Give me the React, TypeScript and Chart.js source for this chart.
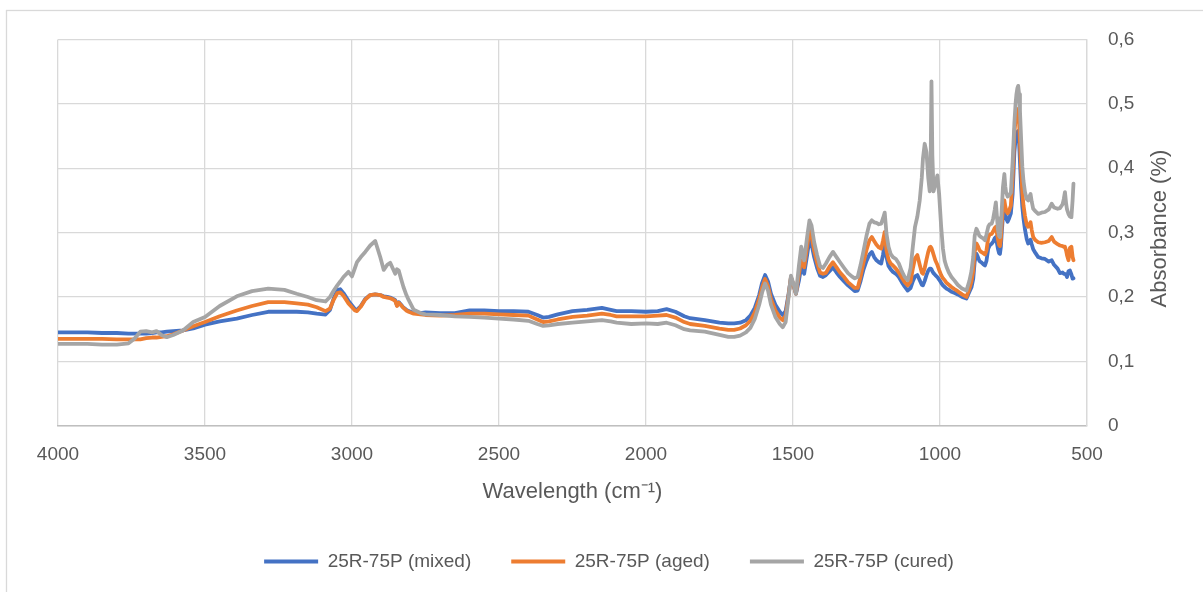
import { useEffect, useRef } from "react";
import { Chart, registerables } from "chart.js";

Chart.register(...registerables);

// FTIR spectra of the 25R-75P blend (absorbance vs. wavenumber)
const wavenumbers = [
  4000, 3950, 3900, 3850, 3800, 3760, 3740, 3720, 3700, 3680, 3665, 3648, 3630, 3608, 3575, 3540,
  3500, 3450, 3392, 3340, 3285, 3230, 3188, 3150, 3120, 3090, 3075, 3062, 3050, 3040, 3029, 3012,
  3000, 2990, 2983, 2970, 2955, 2938, 2921, 2904, 2892, 2880, 2870, 2860, 2853, 2847, 2841, 2833,
  2825, 2815, 2807, 2790, 2767, 2750, 2700, 2650, 2600, 2550, 2500, 2450, 2400, 2370, 2350, 2330,
  2300, 2250, 2200, 2150, 2120, 2100, 2050, 2000, 1960, 1930, 1900, 1870, 1850, 1800, 1750, 1720,
  1700, 1680, 1660, 1645, 1630, 1615, 1605, 1595, 1585, 1575, 1560, 1545, 1535, 1525, 1515, 1507,
  1498, 1490, 1480, 1472, 1462, 1452, 1444, 1437, 1428, 1418, 1408, 1398, 1388, 1376, 1364, 1352,
  1340, 1326, 1313, 1300, 1290, 1280, 1270, 1260, 1250, 1240, 1232, 1224, 1216, 1208, 1200, 1194,
  1188, 1182, 1175, 1168, 1160, 1150, 1140, 1130, 1120, 1110, 1100, 1092, 1085, 1077, 1069, 1062,
  1058, 1052, 1046, 1040, 1035, 1032, 1029, 1026, 1022, 1016, 1009, 1003, 996, 990, 984, 978,
  970, 961, 950, 940, 925, 910, 900, 893, 887, 882, 876, 871, 866, 860, 853, 847,
  842, 836, 831, 824, 819, 814, 810, 806, 803, 799, 796, 793, 790, 786, 781, 778,
  775, 770, 765, 759, 753, 747, 743, 740, 737, 734, 731, 728, 724, 720, 716, 711,
  705, 700, 696, 692, 688, 683, 675, 666, 655, 643, 630, 620, 612, 600, 592, 583,
  579, 575, 571, 568, 563, 558, 553, 549, 546,
];

const mixedAbs = [
  0.145, 0.145, 0.145, 0.144, 0.144, 0.143, 0.143, 0.143, 0.143, 0.144, 0.145, 0.145, 0.146, 0.147, 0.148, 0.151,
  0.157, 0.162, 0.1665, 0.172, 0.177, 0.177, 0.177, 0.176, 0.174, 0.1727, 0.18, 0.198, 0.211, 0.212, 0.206, 0.194,
  0.187, 0.181, 0.18, 0.186, 0.197, 0.203, 0.204, 0.203, 0.201, 0.2, 0.199, 0.197, 0.195, 0.187, 0.192, 0.188,
  0.1835, 0.18, 0.178, 0.175, 0.175, 0.176, 0.175, 0.175, 0.179, 0.179, 0.178, 0.178, 0.177, 0.172, 0.168, 0.169,
  0.173, 0.178, 0.18, 0.183, 0.18, 0.178, 0.178, 0.177, 0.178, 0.181, 0.177, 0.17, 0.167, 0.164, 0.16, 0.159,
  0.159, 0.16, 0.164, 0.171, 0.183, 0.203, 0.222, 0.234, 0.224, 0.205, 0.188, 0.177, 0.172, 0.178, 0.205, 0.23,
  0.218, 0.205, 0.225, 0.247, 0.236, 0.265, 0.29, 0.282, 0.262, 0.245, 0.233, 0.231, 0.234, 0.24, 0.246, 0.238,
  0.231, 0.224, 0.218, 0.213, 0.209, 0.21, 0.225, 0.243, 0.256, 0.266, 0.27, 0.262, 0.257, 0.254, 0.252, 0.265,
  0.283, 0.262, 0.248, 0.243, 0.239, 0.236, 0.231, 0.223, 0.216, 0.21, 0.214, 0.225, 0.232, 0.234, 0.226, 0.219,
  0.218, 0.225, 0.234, 0.241, 0.244, 0.244, 0.243, 0.24, 0.237, 0.234, 0.231, 0.227, 0.222, 0.218, 0.2155, 0.213,
  0.211, 0.208, 0.206, 0.204, 0.2, 0.1975, 0.208, 0.215, 0.228, 0.255, 0.267, 0.262, 0.256, 0.254, 0.251, 0.249,
  0.256, 0.275, 0.28, 0.283, 0.286, 0.291, 0.293, 0.283, 0.275, 0.268, 0.267, 0.278, 0.3, 0.325, 0.34, 0.33,
  0.322, 0.317, 0.322, 0.33, 0.36, 0.425, 0.445, 0.452, 0.456, 0.458, 0.44, 0.41, 0.37, 0.34, 0.322, 0.305,
  0.29, 0.283, 0.285, 0.289, 0.282, 0.274, 0.268, 0.262, 0.26, 0.259, 0.255, 0.257, 0.25, 0.244, 0.237, 0.238,
  0.236, 0.236, 0.234, 0.231, 0.24, 0.241, 0.235, 0.2285, 0.229,
];

const agedAbs = [
  0.135, 0.135, 0.135, 0.135, 0.134, 0.134, 0.134, 0.134, 0.136, 0.137, 0.137, 0.138, 0.139, 0.142, 0.148, 0.1546,
  0.161, 0.17, 0.179, 0.186, 0.192, 0.192, 0.19, 0.188, 0.184, 0.178, 0.182, 0.196, 0.206, 0.207, 0.202, 0.19,
  0.184, 0.179, 0.178, 0.185, 0.196, 0.203, 0.204, 0.203, 0.2, 0.199, 0.198, 0.196, 0.194, 0.186, 0.191, 0.187,
  0.183, 0.179, 0.177, 0.174, 0.173, 0.172, 0.171, 0.172, 0.174, 0.174, 0.173, 0.172, 0.171, 0.165, 0.161, 0.162,
  0.165, 0.169, 0.171, 0.174, 0.172, 0.17, 0.17, 0.17, 0.171, 0.172, 0.168, 0.161, 0.158, 0.155, 0.151, 0.149,
  0.149, 0.151, 0.156, 0.163, 0.176, 0.197, 0.215, 0.228, 0.217, 0.197, 0.179, 0.168, 0.164, 0.171, 0.203, 0.231,
  0.218, 0.205, 0.235, 0.257, 0.246, 0.278, 0.303, 0.295, 0.272, 0.253, 0.238, 0.236, 0.2375, 0.247, 0.254, 0.246,
  0.238, 0.231, 0.223, 0.218, 0.214, 0.214, 0.232, 0.254, 0.273, 0.288, 0.293, 0.287, 0.281, 0.277, 0.275, 0.287,
  0.301, 0.272, 0.258, 0.252, 0.249, 0.244, 0.238, 0.23, 0.223, 0.218, 0.224, 0.245, 0.26, 0.265, 0.25, 0.238,
  0.236, 0.245, 0.258, 0.27, 0.277, 0.278, 0.276, 0.272, 0.266, 0.257, 0.25, 0.242, 0.234, 0.229, 0.226, 0.222,
  0.219, 0.2155, 0.212, 0.209, 0.204, 0.2, 0.213, 0.224, 0.24, 0.27, 0.283, 0.279, 0.273, 0.27, 0.268, 0.266,
  0.272, 0.292, 0.297, 0.298, 0.302, 0.307, 0.309, 0.298, 0.29, 0.281, 0.279, 0.29, 0.312, 0.338, 0.35, 0.341,
  0.334, 0.33, 0.334, 0.342, 0.385, 0.455, 0.475, 0.485, 0.489, 0.492, 0.47, 0.44, 0.4, 0.362, 0.342, 0.326,
  0.312, 0.309, 0.312, 0.316, 0.304, 0.293, 0.288, 0.285, 0.284, 0.285, 0.287, 0.293, 0.286, 0.282, 0.28, 0.279,
  0.278, 0.278, 0.272, 0.265, 0.257, 0.276, 0.278, 0.262, 0.257,
];

const curedAbs = [
  0.127, 0.127, 0.127, 0.126, 0.126, 0.128, 0.135, 0.146, 0.147, 0.145, 0.147, 0.141, 0.1375, 0.141, 0.148, 0.161,
  0.169, 0.186, 0.201, 0.209, 0.213, 0.211, 0.205, 0.2, 0.195, 0.193, 0.2, 0.21, 0.218, 0.224, 0.231, 0.239,
  0.232, 0.245, 0.254, 0.262, 0.27, 0.28, 0.287, 0.262, 0.242, 0.25, 0.253, 0.243, 0.236, 0.243, 0.241, 0.228,
  0.2155, 0.203, 0.195, 0.18, 0.175, 0.173, 0.172, 0.17, 0.169, 0.168, 0.1665, 0.165, 0.163, 0.158, 0.155, 0.156,
  0.158, 0.16, 0.162, 0.164, 0.162, 0.16, 0.158, 0.159, 0.158, 0.16, 0.156, 0.15, 0.148, 0.146, 0.141, 0.138,
  0.138, 0.14, 0.145, 0.152, 0.166, 0.188, 0.207, 0.221, 0.21, 0.188, 0.169, 0.158, 0.153, 0.161, 0.2, 0.233,
  0.22, 0.205, 0.248, 0.278, 0.257, 0.293, 0.319, 0.311, 0.285, 0.265, 0.248, 0.245, 0.252, 0.262, 0.27, 0.262,
  0.254, 0.245, 0.237, 0.232, 0.229, 0.231, 0.25, 0.272, 0.295, 0.314, 0.319, 0.316, 0.315, 0.313, 0.314, 0.322,
  0.331, 0.298, 0.278, 0.267, 0.262, 0.259, 0.252, 0.24, 0.231, 0.226, 0.245, 0.28, 0.309, 0.325, 0.35, 0.385,
  0.415, 0.438, 0.425, 0.385, 0.364, 0.4, 0.535, 0.42, 0.364, 0.375, 0.389, 0.36, 0.309, 0.275, 0.256, 0.247,
  0.238, 0.231, 0.225, 0.219, 0.213, 0.21, 0.225, 0.24, 0.262, 0.295, 0.306, 0.301, 0.295, 0.293, 0.291, 0.288,
  0.297, 0.309, 0.313, 0.314, 0.322, 0.335, 0.347, 0.323, 0.305, 0.295, 0.293, 0.31, 0.335, 0.37, 0.391, 0.372,
  0.362, 0.356, 0.358, 0.362, 0.41, 0.47, 0.5, 0.515, 0.524, 0.528, 0.515, 0.489, 0.445, 0.402, 0.38, 0.363,
  0.352, 0.35, 0.356, 0.36, 0.348, 0.337, 0.333, 0.329, 0.331, 0.332, 0.336, 0.345, 0.339, 0.337, 0.338, 0.344,
  0.352, 0.363, 0.345, 0.336, 0.329, 0.325, 0.324, 0.35, 0.376,
];

const seriesLabels = ["25R-75P (mixed)", "25R-75P (aged)", "25R-75P (cured)"];
const seriesColors = ["#4472C4", "#ED7D31", "#A5A5A5"];
const seriesValues = [mixedAbs, agedAbs, curedAbs];

const xTitle = "Wavelength (cm\u207B\u00B9)";
const yTitle = "Absorbance (%)";

const FONT = "'Liberation Sans', Arial, sans-serif";
const TEXT = "#595959";
const GRID = "#d9d9d9";

// Outer chart frame and white background
const framePlugin = {
  id: "chartFrame",
  beforeDraw(chart: any) {
    const { ctx, width, height } = chart;
    ctx.save();
    ctx.fillStyle = "#ffffff";
    ctx.fillRect(0, 0, width, height);
    ctx.strokeStyle = GRID;
    ctx.lineWidth = 1.3;
    ctx.strokeRect(6.5, 10.5, width + 100, height + 100);
    ctx.restore();
  },
};

// Value-axis title on the right, reading bottom to top
const yTitlePlugin = {
  id: "rightAxisTitle",
  afterDraw(chart: any) {
    const { ctx, chartArea } = chart;
    const yScale = chart.scales.y;
    ctx.save();
    ctx.translate(yScale.left + 73, (chartArea.top + chartArea.bottom) / 2 - 4);
    ctx.rotate(-Math.PI / 2);
    ctx.font = `22px ${FONT}`;
    ctx.fillStyle = TEXT;
    ctx.textAlign = "center";
    ctx.textBaseline = "middle";
    ctx.fillText(yTitle, 0, 0);
    ctx.restore();
  },
};

export default function App() {
  const canvasRef = useRef<HTMLCanvasElement>(null);

  useEffect(() => {
    document.body.style.margin = "0";
    const canvas = canvasRef.current;
    if (!canvas) return;

    const datasets = seriesLabels.map((label, i) => ({
      label,
      data: wavenumbers.map((w, j) => ({ x: w, y: seriesValues[i][j] })),
      borderColor: seriesColors[i],
      backgroundColor: seriesColors[i],
      borderWidth: 3.8,
      borderJoinStyle: "round",
      borderCapStyle: "round",
      pointRadius: 0,
      tension: 0,
      fill: false,
      order: 3 - i,
    }));

    const chart = new Chart(canvas, {
      type: "line",
      data: { datasets },
      plugins: [framePlugin, yTitlePlugin],
      options: {
        animation: false,
        responsive: false,
        maintainAspectRatio: false,
        layout: { padding: { left: 58, right: 43, top: 39.5, bottom: 11 } },
        plugins: {
          tooltip: { enabled: false },
          legend: {
            position: "bottom",
            labels: {
              usePointStyle: true,
              pointStyle: "line",
              pointStyleWidth: 54,
              padding: 40,
              color: TEXT,
              font: { family: FONT, size: 19 },
              sort: (a: any, b: any) => a.datasetIndex - b.datasetIndex,
            },
          },
        },
        scales: {
          x: {
            type: "linear",
            reverse: true,
            min: 500,
            max: 4000,
            ticks: {
              stepSize: 500,
              padding: 18,
              maxRotation: 0,
              autoSkip: false,
              color: TEXT,
              font: { family: FONT, size: 19 },
              callback: (v: any) => String(v),
            },
            grid: { color: GRID, lineWidth: 1.3, drawTicks: false },
            border: { color: "#bfbfbf", width: 1.5 },
            title: {
              display: true,
              text: xTitle,
              color: TEXT,
              font: { family: FONT, size: 22 },
              padding: { top: 0, bottom: 7 },
            },
            afterFit: (scale: any) => {
              scale.height = 86.3;
            },
          },
          y: {
            position: "right",
            min: 0,
            max: 0.6,
            ticks: {
              stepSize: 0.1,
              padding: 21,
              color: TEXT,
              font: { family: FONT, size: 19 },
              callback: (v: any) => (Math.abs(v) < 1e-9 ? "0" : Number(v).toFixed(1).replace(".", ",")),
            },
            grid: { color: GRID, lineWidth: 1.3, drawTicks: false },
            border: { color: GRID, width: 1.3 },
            afterFit: (scale: any) => {
              scale.width = 73;
            },
          },
        },
      },
    } as any);

    return () => chart.destroy();
  }, []);

  return (
    <div style={{ width: 1203, height: 592 }}>
      <canvas ref={canvasRef} width={1203} height={592} style={{ display: "block" }} />
    </div>
  );
}
